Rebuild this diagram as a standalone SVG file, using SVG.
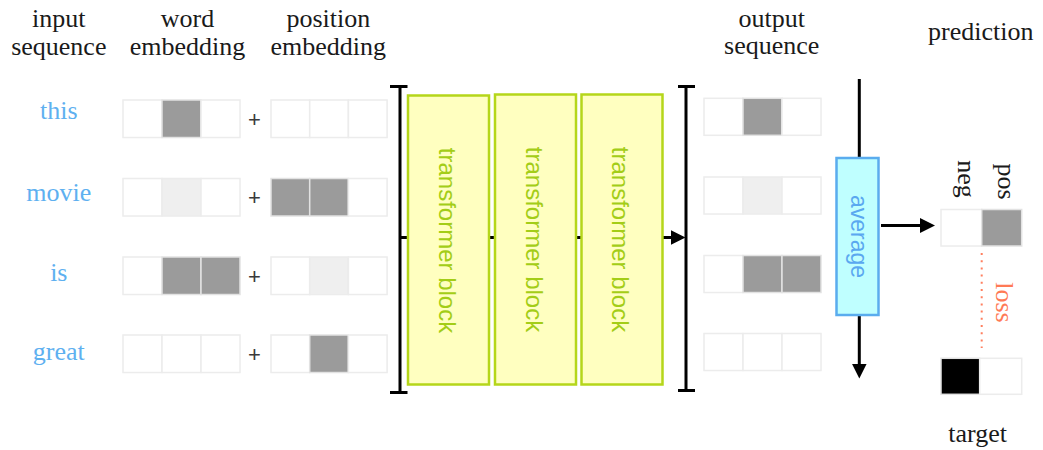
<svg xmlns="http://www.w3.org/2000/svg" width="1043" height="450" viewBox="0 0 1043 450">
  <defs>
    <style>
      .hdr { font-family: "Liberation Serif", "Times New Roman", serif; font-size: 26px; fill: #1a1a1a; text-anchor: middle; }
      .word { font-family: "Liberation Serif", "Times New Roman", serif; font-size: 26px; fill: #5eb0f0; text-anchor: middle; }
      .plus { font-family: "Liberation Sans", Arial, sans-serif; font-size: 22px; fill: #3a3a3a; text-anchor: middle; }
      .cell { fill: #ffffff; stroke: #ececec; stroke-width: 1.5; }
      .dark { fill: #9b9b9b; stroke: #e2e2e2; stroke-width: 1.5; }
      .light { fill: #efefef; stroke: #ececec; stroke-width: 1.5; }
      .black { fill: #000000; stroke: #e2e2e2; stroke-width: 1.5; }
      .block { fill: #ffffc0; stroke: #b5d61a; stroke-width: 2.5; }
      .blocktxt { font-family: "Liberation Sans", Arial, sans-serif; font-size: 24px; fill: #a3cd17; text-anchor: middle; }
      .avg { fill: #bfffff; stroke: #5aacee; stroke-width: 2.5; }
      .avgtxt { font-family: "Liberation Sans", Arial, sans-serif; font-size: 23px; fill: #5aa8f0; text-anchor: middle; }
      .wire { stroke: #000; stroke-width: 3; fill: none; }
      .loss { font-family: "Liberation Serif", "Times New Roman", serif; font-size: 26px; fill: #ff7a55; text-anchor: middle; }
    </style>
    <marker id="arrow" viewBox="0 0 10 10" refX="7" refY="5" markerWidth="5" markerHeight="5" orient="auto" markerUnits="strokeWidth">
      <path d="M0,0 L10,5 L0,10 z" fill="#000"/>
    </marker>
  </defs>

  <rect width="1043" height="450" fill="#ffffff"/>

  <!-- column headings -->
  <g id="headings">
    <text class="hdr" x="58.8" y="27">input</text>
    <text class="hdr" x="58.8" y="55">sequence</text>
    <text class="hdr" x="187.5" y="27">word</text>
    <text class="hdr" x="187.5" y="55">embedding</text>
    <text class="hdr" x="328.3" y="27">position</text>
    <text class="hdr" x="328.3" y="55">embedding</text>
    <text class="hdr" x="771.7" y="27">output</text>
    <text class="hdr" x="771.7" y="54">sequence</text>
    <text class="hdr" x="980.8" y="40">prediction</text>
  </g>

  <!-- connectors -->
  <g id="connectors">
    <!-- brackets around the transformer stack -->
    <path class="wire" d="M400,85 V394 M390,86.5 H407.5 M390,392.5 H407.5"/>
    <path class="wire" d="M686,85 V392 M678,86.5 H695 M678,390.5 H695"/>
    <!-- flow through the stack -->
    <line class="wire" x1="400" y1="237.5" x2="681" y2="237.5" marker-end="url(#arrow)"/>
    <!-- pooling axis through the average -->
    <line class="wire" x1="859.3" y1="79" x2="859.3" y2="374" marker-end="url(#arrow)"/>
    <line class="wire" x1="881" y1="225.5" x2="930.5" y2="225.5" marker-end="url(#arrow)"/>
    <!-- loss between prediction and target -->
    <line x1="981.7" y1="253" x2="981.7" y2="348" stroke="#ff7f5f" stroke-width="2" stroke-dasharray="2 5.2"/>
  </g>

  <!-- input tokens -->
  <g id="tokens">
    <text class="word" x="58.8" y="119.3">this</text>
    <text class="word" x="58.8" y="201">movie</text>
    <text class="word" x="58.8" y="280.7">is</text>
    <text class="word" x="58.8" y="360">great</text>
  </g>

  <!-- word embeddings -->
  <g id="word-embedding">
    <rect class="cell" x="123" y="100" width="39" height="37.5"/>
    <rect class="dark" x="162" y="100" width="39" height="37.5"/>
    <rect class="cell" x="201" y="100" width="39" height="37.5"/>

    <rect class="cell" x="123" y="178.5" width="39" height="37.5"/>
    <rect class="light" x="162" y="178.5" width="39" height="37.5"/>
    <rect class="cell" x="201" y="178.5" width="39" height="37.5"/>

    <rect class="cell" x="123" y="257" width="39" height="37.5"/>
    <rect class="dark" x="162" y="257" width="39" height="37.5"/>
    <rect class="dark" x="201" y="257" width="39" height="37.5"/>

    <rect class="cell" x="123" y="335" width="39" height="37.5"/>
    <rect class="cell" x="162" y="335" width="39" height="37.5"/>
    <rect class="cell" x="201" y="335" width="39" height="37.5"/>
  </g>

  <g id="plus-signs">
    <text class="plus" x="254.5" y="126.5">+</text>
    <text class="plus" x="254.5" y="205.3">+</text>
    <text class="plus" x="254.5" y="283.8">+</text>
    <text class="plus" x="254.5" y="361.8">+</text>
  </g>

  <!-- position embeddings -->
  <g id="position-embedding">
    <rect class="cell" x="271" y="100" width="38.7" height="37.5"/>
    <rect class="cell" x="309.7" y="100" width="38.7" height="37.5"/>
    <rect class="cell" x="348.4" y="100" width="38.7" height="37.5"/>

    <rect class="dark" x="271" y="178.5" width="38.7" height="37.5"/>
    <rect class="dark" x="309.7" y="178.5" width="38.7" height="37.5"/>
    <rect class="cell" x="348.4" y="178.5" width="38.7" height="37.5"/>

    <rect class="cell" x="271" y="257" width="38.7" height="37.5"/>
    <rect class="light" x="309.7" y="257" width="38.7" height="37.5"/>
    <rect class="cell" x="348.4" y="257" width="38.7" height="37.5"/>

    <rect class="cell" x="271" y="335" width="38.7" height="37.5"/>
    <rect class="dark" x="309.7" y="335" width="38.7" height="37.5"/>
    <rect class="cell" x="348.4" y="335" width="38.7" height="37.5"/>
  </g>

  <!-- transformer stack -->
  <g id="block-1">
    <rect class="block" x="408" y="95.5" width="81" height="289"/>
    <text class="blocktxt" transform="translate(438.5,240.5) rotate(90)">transformer block</text>
  </g>
  <g id="block-2">
    <rect class="block" x="495" y="94.5" width="81" height="290"/>
    <text class="blocktxt" transform="translate(525.8,239.5) rotate(90)">transformer block</text>
  </g>
  <g id="block-3">
    <rect class="block" x="581.5" y="94.5" width="81" height="290"/>
    <text class="blocktxt" transform="translate(612.4,239.5) rotate(90)">transformer block</text>
  </g>

  <!-- output sequence -->
  <g id="output-sequence">
    <rect class="cell" x="704" y="98.3" width="39" height="37"/>
    <rect class="dark" x="743" y="98.3" width="39" height="37"/>
    <rect class="cell" x="782" y="98.3" width="39" height="37"/>

    <rect class="cell" x="704" y="177" width="39" height="37"/>
    <rect class="light" x="743" y="177" width="39" height="37"/>
    <rect class="cell" x="782" y="177" width="39" height="37"/>

    <rect class="cell" x="704" y="255.5" width="39" height="37"/>
    <rect class="dark" x="743" y="255.5" width="39" height="37"/>
    <rect class="dark" x="782" y="255.5" width="39" height="37"/>

    <rect class="cell" x="704" y="333.5" width="39" height="37"/>
    <rect class="cell" x="743" y="333.5" width="39" height="37"/>
    <rect class="cell" x="782" y="333.5" width="39" height="37"/>
  </g>

  <!-- average pooling -->
  <g id="average">
    <rect class="avg" x="836.5" y="158" width="42" height="157"/>
    <text class="avgtxt" transform="translate(850.5,236.5) rotate(90)">average</text>
  </g>

  <!-- prediction -->
  <g id="prediction">
    <text class="hdr" transform="translate(958,179) rotate(90)">neg</text>
    <text class="hdr" transform="translate(998,181.5) rotate(90)">pos</text>
    <rect class="cell" x="941" y="209.5" width="40.7" height="36.5"/>
    <rect class="dark" x="981.7" y="209.5" width="40" height="36.5"/>
  </g>

  <g id="loss-label">
    <text class="loss" transform="translate(995.5,302.5) rotate(90)">loss</text>
  </g>

  <!-- target -->
  <g id="target">
    <rect class="black" x="941" y="358.3" width="38.7" height="36"/>
    <rect class="cell" x="979.7" y="358.3" width="42" height="36"/>
    <text class="hdr" x="977.7" y="441.7">target</text>
  </g>
</svg>
